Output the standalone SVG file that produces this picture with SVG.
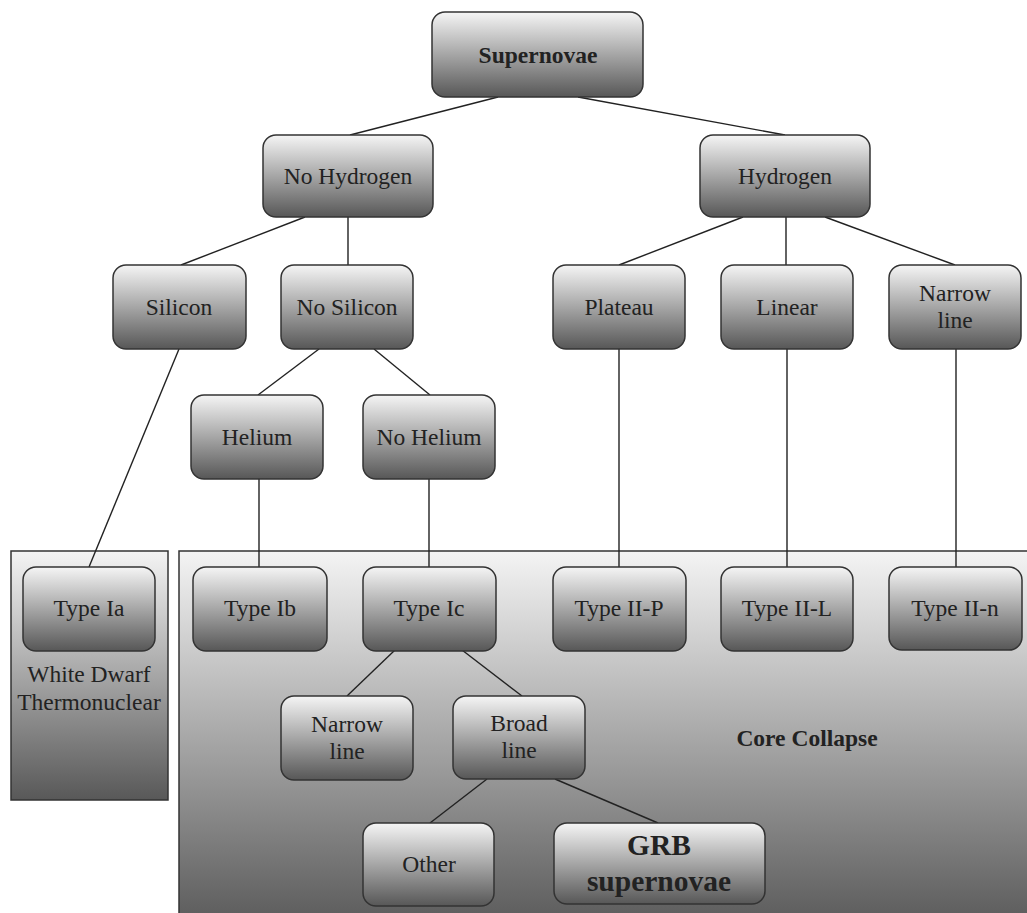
<svg xmlns="http://www.w3.org/2000/svg" width="1027" height="913" viewBox="0 0 1027 913">
<defs>
<linearGradient id="gNode" x1="0" y1="0" x2="0" y2="1">
<stop offset="0" stop-color="#f5f5f5"/>
<stop offset="1" stop-color="#575757"/>
</linearGradient>
<linearGradient id="gBox" x1="0" y1="0" x2="0" y2="1">
<stop offset="0" stop-color="#f4f4f4"/>
<stop offset="1" stop-color="#585858"/>
</linearGradient>
</defs>
<style>
.node rect{fill:url(#gNode);stroke:#333;stroke-width:1.5}
.region{fill:url(#gBox);stroke:#333;stroke-width:1.5}
text{font-family:"Liberation Serif","Times New Roman",serif;font-size:23.5px;fill:#222;text-anchor:middle}
.b{font-weight:bold}
.big{font-weight:bold;font-size:29.5px}
#connectors line{stroke:#222;stroke-width:1.4}
</style>
<rect width="1027" height="913" fill="#ffffff"/>
<g id="white-dwarf-region">
<rect class="region" x="11" y="551" width="157" height="249"/>
<text x="89" y="682">White Dwarf</text>
<text x="89" y="710">Thermonuclear</text>
</g>
<g id="core-collapse-region">
<rect class="region" x="179" y="551" width="860" height="380"/>
<text class="b" x="807" y="746">Core Collapse</text>
</g>
<g id="connectors">
<line x1="498" y1="97" x2="350" y2="135"/>
<line x1="578" y1="97" x2="785" y2="135"/>
<line x1="305" y1="217" x2="181" y2="265"/>
<line x1="348" y1="217" x2="348" y2="265"/>
<line x1="743" y1="217" x2="619" y2="265"/>
<line x1="786" y1="217" x2="786" y2="265"/>
<line x1="825" y1="217" x2="955" y2="265"/>
<line x1="179" y1="349" x2="89" y2="567"/>
<line x1="319" y1="349" x2="258" y2="395"/>
<line x1="374" y1="349" x2="430" y2="395"/>
<line x1="259" y1="479" x2="259" y2="567"/>
<line x1="429" y1="479" x2="429" y2="567"/>
<line x1="619" y1="349" x2="619" y2="567"/>
<line x1="787" y1="349" x2="787" y2="567"/>
<line x1="956" y1="349" x2="956" y2="567"/>
<line x1="395" y1="650" x2="347" y2="696"/>
<line x1="462" y1="650" x2="522" y2="696"/>
<line x1="487" y1="779" x2="430" y2="823"/>
<line x1="555" y1="779" x2="658" y2="823"/>
</g>
<g id="supernovae" class="node"><rect x="432" y="12" width="211" height="85" rx="13"/><text class="b" x="538" y="63">Supernovae</text></g>
<g id="no-hydrogen" class="node"><rect x="263" y="135" width="170" height="82" rx="13"/><text x="348" y="184">No Hydrogen</text></g>
<g id="hydrogen" class="node"><rect x="700" y="135" width="170" height="82" rx="13"/><text x="785" y="184">Hydrogen</text></g>
<g id="silicon" class="node"><rect x="113" y="265" width="133" height="84" rx="13"/><text x="179" y="315">Silicon</text></g>
<g id="no-silicon" class="node"><rect x="281" y="265" width="132" height="84" rx="13"/><text x="347" y="315">No Silicon</text></g>
<g id="plateau" class="node"><rect x="553" y="265" width="132" height="84" rx="13"/><text x="619" y="315">Plateau</text></g>
<g id="linear" class="node"><rect x="721" y="265" width="132" height="84" rx="13"/><text x="787" y="315">Linear</text></g>
<g id="narrow-line-h" class="node"><rect x="889" y="265" width="132" height="84" rx="13"/><text x="955" y="301">Narrow</text><text x="955" y="328">line</text></g>
<g id="helium" class="node"><rect x="191" y="395" width="132" height="84" rx="13"/><text x="257" y="445">Helium</text></g>
<g id="no-helium" class="node"><rect x="363" y="395" width="132" height="84" rx="13"/><text x="429" y="445">No Helium</text></g>
<g id="type-ia" class="node"><rect x="23" y="567" width="132" height="84" rx="13"/><text x="89" y="616">Type Ia</text></g>
<g id="type-ib" class="node"><rect x="193" y="567" width="134" height="84" rx="13"/><text x="260" y="616">Type Ib</text></g>
<g id="type-ic" class="node"><rect x="363" y="567" width="133" height="84" rx="13"/><text x="429" y="616">Type Ic</text></g>
<g id="type-ii-p" class="node"><rect x="553" y="567" width="133" height="84" rx="13"/><text x="619" y="616">Type II-P</text></g>
<g id="type-ii-l" class="node"><rect x="721" y="567" width="132" height="84" rx="13"/><text x="787" y="616">Type II-L</text></g>
<g id="type-ii-n" class="node"><rect x="889" y="567" width="133" height="83" rx="13"/><text x="955" y="616">Type II-n</text></g>
<g id="narrow-line" class="node"><rect x="281" y="696" width="132" height="84" rx="13"/><text x="347" y="732">Narrow</text><text x="347" y="759">line</text></g>
<g id="broad-line" class="node"><rect x="453" y="696" width="132" height="83" rx="13"/><text x="519" y="731">Broad</text><text x="519" y="758">line</text></g>
<g id="other" class="node"><rect x="363" y="823" width="131" height="83" rx="13"/><text x="429" y="872">Other</text></g>
<g id="grb" class="node"><rect x="554" y="823" width="211" height="81" rx="13"/><text class="big" x="659" y="855">GRB</text><text class="big" x="659" y="891">supernovae</text></g>
</svg>
